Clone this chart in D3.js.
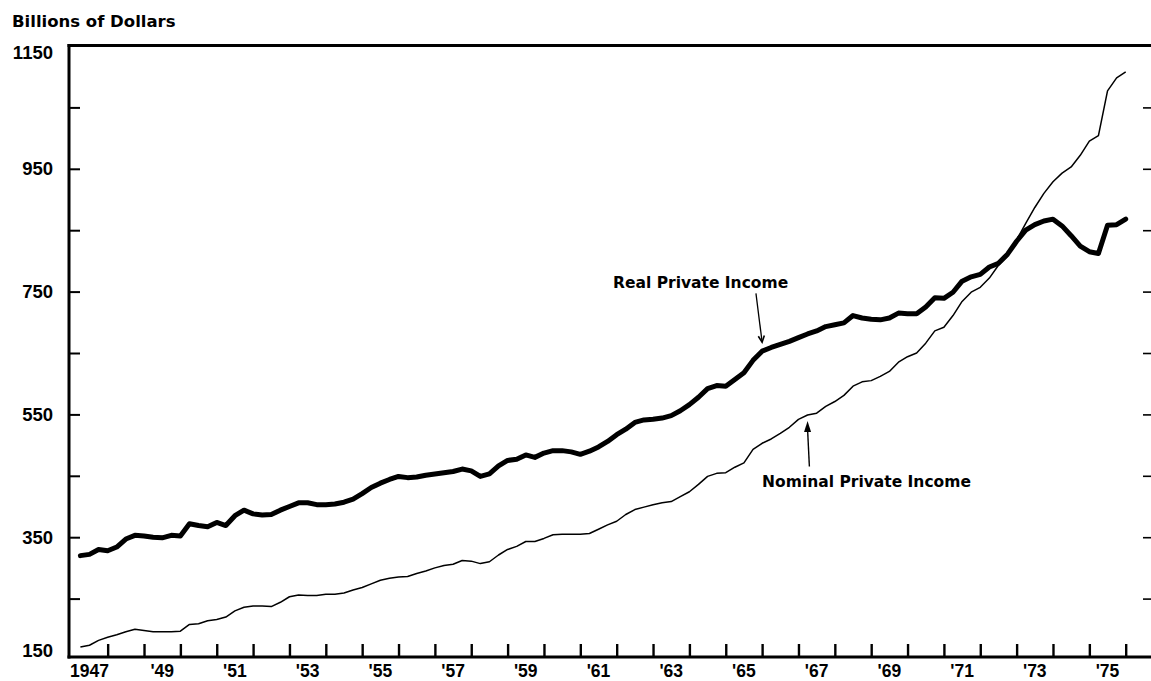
<!DOCTYPE html>
<html><head><meta charset="utf-8">
<script src="https://cdn.jsdelivr.net/npm/d3@7"></script>
<style>body{margin:0;background:#fff} svg{display:block}</style>
</head><body>
<svg id="c" width="1151" height="681"></svg>
<script>
// Quarterly values, 1947 Q1 .. 1975 Q4 (billions of dollars)
const firstYear = 1947;
const realIncome = [
  320, 322, 330, 328,   334, 347, 353, 352,   350, 349, 353, 352,
  372, 369, 367, 374,   369, 385, 394, 388,   386, 387, 394, 400,
  406, 406, 403, 403,   404, 407, 412, 421,   431, 438, 444, 449,
  447, 448, 451, 453,   455, 457, 461, 458,   449, 453, 466, 475,
  477, 484, 480, 487,   491, 491, 489, 485,   490, 497, 506, 517,
  526, 537, 541, 542,   544, 548, 556, 566,   578, 592, 597, 596,
  607, 618, 638, 653,   659, 664, 669, 675,   681, 686, 693, 696,
  699, 711, 707, 705,   704, 707, 715, 714,   714, 725, 740, 739,
  749, 767, 774, 778,   790, 796, 811, 832,   850, 859, 865, 868,
  857, 841, 824, 815,   812, 858, 859, 868
];
const nominalIncome = [
  171, 174, 182, 187,   191, 196, 200, 198,   196, 196, 196, 197,
  208, 209, 214, 216,   220, 230, 236, 238,   238, 237, 244, 253,
  256, 255, 255, 257,   257, 259, 264, 268,   274, 280, 283, 285,
  286, 291, 295, 300,   304, 306, 312, 311,   307, 310, 321, 330,
  335, 343, 343, 348,   354, 355, 355, 355,   356, 363, 370, 376,
  387, 395, 399, 403,   406, 408, 416, 424,   436, 449, 454, 455,
  464, 471, 493, 503,   510, 519, 529, 542,   549, 552, 563, 571,
  581, 596, 603, 605,   612, 620, 635, 644,   650, 666, 686, 692,
  711, 734, 749, 757,   772, 793, 808, 834,   861, 887, 910, 929,
  943, 953, 972, 995,   1004, 1077, 1098, 1108
];
const xTickYears = d3.range(1948, 1977);
const xLabelYears = [1947,1949,1951,1953,1955,1957,1959,1961,1963,1965,1967,1969,1971,1973,1975];
const xLabels = ["1947","'49","'51","'53","'55","'57","'59","'61","'63","'65","'67","'69","'71","'73","'75"];
const yTickValues = [250,350,450,550,650,750,850,950,1050];
const yLabelValues = [150,350,550,750,950,1150];
const yLabels = ["150","350","550","750","950","1150"];
const yTitle = "Billions of Dollars";
const annotations = [
  {text:"Real Private Income", tx:1961.9, tv:756, ax:1965.83, av:747, tipQ:75, series:"real"},
  {text:"Nominal Private Income", tx:1966.0, tv:432, ax:1967.3, av:465, tipQ:80, series:"nominal"}
];

const svg = d3.select("#c");
const x = d3.scaleLinear().domain([1947, 1976]).range([71.3, 1125.7]);
const y = d3.scaleLinear().domain([150, 1150]).range([660, 46]);
const tOf = i => firstYear + (i + 1) / 4;

const axisLeftX = 69, axisBottomY = 657, topY = 45.5, rightX = 1151;

// frame lines
svg.append("line").attr("x1",axisLeftX).attr("x2",axisLeftX).attr("y1",topY-1.5).attr("y2",axisBottomY+1.5)
  .attr("stroke","#000").attr("stroke-width",3);
svg.append("line").attr("x1",axisLeftX-1.5).attr("x2",rightX).attr("y1",topY).attr("y2",topY)
  .attr("stroke","#000").attr("stroke-width",3);
svg.append("line").attr("x1",axisLeftX-1.5).attr("x2",rightX).attr("y1",axisBottomY).attr("y2",axisBottomY)
  .attr("stroke","#000").attr("stroke-width",3);

// bottom ticks
const gb = svg.append("g").attr("transform",`translate(0,${axisBottomY})`)
  .call(d3.axisBottom(x).tickValues(xTickYears).tickSize(-13).tickFormat(""));
gb.select(".domain").remove();
gb.selectAll(".tick line").attr("stroke","#000").attr("stroke-width",2.4);

// left ticks
const gl = svg.append("g").attr("transform",`translate(${axisLeftX},0)`)
  .call(d3.axisLeft(y).tickValues(yTickValues).tickSize(-11).tickFormat(""));
gl.select(".domain").remove();
gl.selectAll(".tick line").attr("stroke","#000").attr("stroke-width",2);

// right ticks
const gr = svg.append("g").attr("transform",`translate(${rightX},0)`)
  .call(d3.axisRight(y).tickValues(yTickValues).tickSize(-8).tickFormat(""));
gr.select(".domain").remove();
gr.selectAll(".tick line").attr("stroke","#000").attr("stroke-width",1.6);

const labelFont = "'Liberation Sans', Arial, sans-serif";
// x labels
svg.append("g").selectAll("text").data(xLabelYears).join("text")
  .attr("x", d => x(d + 0.5)).attr("y", 677)
  .attr("text-anchor","middle").attr("font-family",labelFont).attr("font-weight","bold")
  .attr("font-size",17.5).attr("fill","#000")
  .text((d,i) => xLabels[i]);

// y labels
svg.append("g").selectAll("text").data(yLabelValues).join("text")
  .attr("x", 53).attr("y", d => Math.max(52, Math.min(y(d), 650)) + 6.5)
  .attr("text-anchor","end").attr("font-family",labelFont).attr("font-weight","bold")
  .attr("font-size",18.5).attr("fill","#000")
  .text((d,i) => yLabels[i]);

// y title
svg.append("text").attr("x",12).attr("y",27)
  .attr("font-family","'DejaVu Sans', sans-serif").attr("font-weight","bold")
  .attr("font-size",16.5).attr("fill","#000").text(yTitle);

// lines
const line = d3.line().x((d,i) => x(tOf(i))).y(d => y(d));
svg.append("path").datum(nominalIncome).attr("d", line)
  .attr("fill","none").attr("stroke","#000").attr("stroke-width",1.5).attr("stroke-linejoin","round");
svg.append("path").datum(realIncome).attr("d", line)
  .attr("fill","none").attr("stroke","#000").attr("stroke-width",5).attr("stroke-linejoin","round").attr("stroke-linecap","round");

// annotations
annotations.forEach(a => {
  svg.append("text").attr("x", x(a.tx)).attr("y", y(a.tv))
    .attr("font-family","'DejaVu Sans', sans-serif").attr("font-weight","bold")
    .attr("font-size",15.5).attr("fill","#000").text(a.text);
  const vals = a.series === "real" ? realIncome : nominalIncome;
  const tipX = x(tOf(a.tipQ));
  const sx = x(a.ax), sy = y(a.av);
  if (a.series === "real") {
    const tipY = y(vals[a.tipQ]) - 9;
    svg.append("line").attr("x1",sx).attr("y1",sy).attr("x2",tipX).attr("y2",tipY)
      .attr("stroke","#000").attr("stroke-width",1.3);
    const ang = Math.atan2(tipY - sy, tipX - sx);
    const L = 7, spread = 0.45;
    const p1 = [tipX - L*Math.cos(ang-spread), tipY - L*Math.sin(ang-spread)];
    const p2 = [tipX - L*Math.cos(ang+spread), tipY - L*Math.sin(ang+spread)];
    svg.append("path").attr("d",`M${p1[0]},${p1[1]}L${tipX},${tipY}L${p2[0]},${p2[1]}`)
      .attr("fill","none").attr("stroke","#000").attr("stroke-width",1.6);
  } else {
    const tipY = y(vals[a.tipQ]) + 6;
    svg.append("line").attr("x1",sx).attr("y1",sy).attr("x2",tipX).attr("y2",tipY + 8)
      .attr("stroke","#000").attr("stroke-width",1.4);
    svg.append("path").attr("d",`M${tipX},${tipY}L${tipX-3.5},${tipY+11}L${tipX+3.5},${tipY+11}Z`)
      .attr("fill","#000");
  }
});
</script>
</body></html>
